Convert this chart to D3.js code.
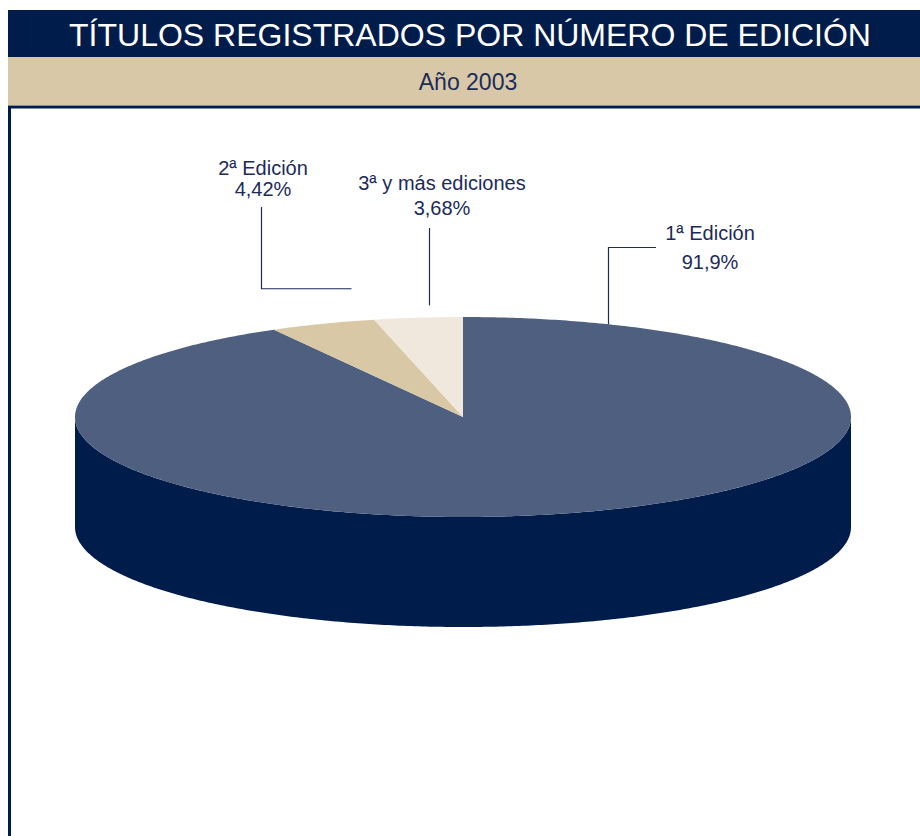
<!DOCTYPE html>
<html>
<head>
<meta charset="utf-8">
<script src="https://cdn.jsdelivr.net/npm/d3@7"></script>
<style>
  html, body { margin: 0; padding: 0; background: #fff; }
  svg { display: block; font-family: "Liberation Sans", Arial, sans-serif; }
</style>
</head>
<body>
<div id="chart"></div>
<script>
const title = "TÍTULOS REGISTRADOS POR NÚMERO DE EDICIÓN";
const subtitle = "Año 2003";

const categories = ["1ª Edición", "2ª Edición", "3ª y más ediciones"];
const values = [91.9, 4.42, 3.68];
const valueLabels = ["91,9%", "4,42%", "3,68%"];

const topColors = ["#4e5f80", "#d8c8a6", "#f0e8dc"];
const sideColors = ["#001c4b", "#a8987a", "#c8bfb2"];

const W = 920, H = 836;
const cx = 463, cy = 417, rx = 388, ry = 100, depth = 110;
const NAVY = "#001c4b";
const TEXT = "#1b2b5a";

const svg = d3.select("#chart").append("svg")
    .attr("width", W)
    .attr("height", H);

// header bars
svg.append("rect").attr("x", 8).attr("y", 10).attr("width", W - 8).attr("height", 47).attr("fill", NAVY);
svg.append("text")
    .attr("x", 470).attr("y", 46)
    .attr("text-anchor", "middle")
    .attr("fill", "#fff")
    .attr("font-size", 32)
    .text(title);

svg.append("rect").attr("x", 8).attr("y", 57).attr("width", W - 8).attr("height", 48).attr("fill", "#d8c8a7");
svg.append("text")
    .attr("x", 468).attr("y", 90)
    .attr("text-anchor", "middle")
    .attr("fill", TEXT)
    .attr("font-size", 23)
    .text(subtitle);

// frame
svg.append("line").attr("x1", 8).attr("x2", W).attr("y1", 107).attr("y2", 107)
    .attr("stroke", NAVY).attr("stroke-width", 3);
svg.append("line").attr("x1", 9.5).attr("x2", 9.5).attr("y1", 106).attr("y2", H)
    .attr("stroke", NAVY).attr("stroke-width", 3);

// 3d pie
const pie = d3.pie().sort(null).value(d => d.value);
const arcs = pie(categories.map((c, i) => ({ name: c, value: values[i], i })));

const px = a => cx + rx * Math.sin(a);
const py = a => cy - ry * Math.cos(a);

function arcPoints(a0, a1, dy) {
    const n = Math.max(2, Math.ceil(Math.abs(a1 - a0) / 0.01));
    return d3.range(n + 1).map(k => {
        const a = a0 + (a1 - a0) * k / n;
        return [px(a), py(a) + dy];
    });
}

const g = svg.append("g");

// side walls (front half only: angles between pi/2 and 3pi/2)
arcs.forEach(d => {
    const a0 = Math.max(d.startAngle, Math.PI / 2);
    const a1 = Math.min(d.endAngle, 3 * Math.PI / 2);
    if (a1 <= a0) return;
    const pts = arcPoints(a0, a1, 0).concat(arcPoints(a1, a0, depth));
    g.append("path")
        .attr("d", d3.line()(pts) + "Z")
        .attr("fill", sideColors[d.data.i]);
});

// top faces
arcs.forEach(d => {
    const pts = [[cx, cy]].concat(arcPoints(d.startAngle, d.endAngle, 0));
    g.append("path")
        .attr("d", d3.line()(pts) + "Z")
        .attr("fill", topColors[d.data.i]);
});

// labels with leader lines
const labelLayout = [
    { angle: 22, gap: 0, elbowY: 247, elbowX: 656, tx: 710, ty: 240, dy: 29 },
    { angle: -16.8, gap: 33, elbowX: 261, tx: 263, ty: 175, dy: 21 },
    { angle: -5, gap: 12, tx: 442, ty: 190, dy: 25 }
];

const lg = svg.append("g");
labelLayout.forEach((L, i) => {
    const a = L.angle * Math.PI / 180;
    const ax = Math.round(px(a)) + 0.5, ay = py(a) - L.gap;
    let pts;
    if (i === 0) pts = [[ax, ay], [ax, L.elbowY + 0.5], [L.elbowX, L.elbowY + 0.5]];
    else if (i === 1) pts = [[ax, ay + 0.5], [L.elbowX + 0.5, ay + 0.5], [L.elbowX + 0.5, 207]];
    else pts = [[ax, ay], [ax, 228]];
    lg.append("path")
        .attr("d", d3.line()(pts))
        .attr("fill", "none")
        .attr("stroke", TEXT)
        .attr("stroke-width", 1.2);
    const t = lg.append("text")
        .attr("x", L.tx).attr("y", L.ty)
        .attr("text-anchor", "middle")
        .attr("fill", TEXT)
        .attr("font-size", 20);
    t.append("tspan").attr("x", L.tx).text(categories[i]);
    t.append("tspan").attr("x", L.tx).attr("dy", L.dy).text(valueLabels[i]);
});
</script>
</body>
</html>
